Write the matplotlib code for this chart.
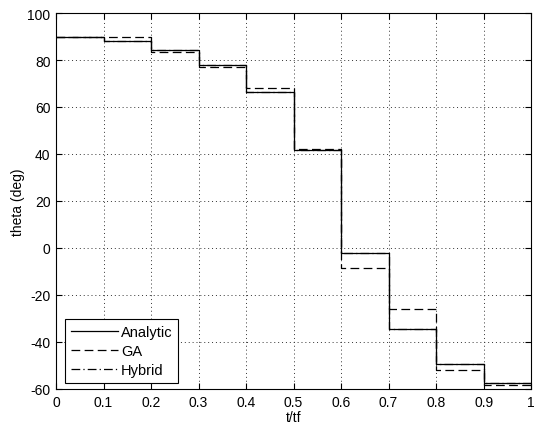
import numpy as np
import matplotlib
matplotlib.use('Agg')
import matplotlib.pyplot as plt

plt.rcParams['font.family'] = ['Liberation Sans', 'DejaVu Sans']
plt.rcParams['axes.unicode_minus'] = False

t_edges = [0, 0.1, 0.2, 0.3, 0.4, 0.5, 0.6, 0.7, 0.8, 0.9, 1.0]
analytic = [90, 88, 84.3, 77.9, 66.3, 41.7, -2.1, -34.5, -49.5, -57.4]
ga = [90, 89.6, 83.3, 77.2, 68.2, 42.0, -8.7, -26.1, -51.8, -58.2]
hybrid = [90, 88, 84.3, 77.9, 66.3, 41.7, -2.1, -34.5, -49.5, -57.4]

fig = plt.figure(figsize=(5.35, 4.27), dpi=100)
ax = fig.add_axes([0.1047, 0.0867, 0.888, 0.8805])

ax.step(t_edges, analytic + [analytic[-1]], where='post', color='black', lw=0.9, label='Analytic')
ax.step(t_edges, ga + [ga[-1]], where='post', color='black', lw=0.9, ls=(0, (7, 3.5)), label='GA')
ax.step(t_edges, hybrid + [hybrid[-1]], where='post', color='black', lw=0.9, ls=(0, (7, 2.5, 1, 2.5)), label='Hybrid')

ax.set_xlim(0, 1)
ax.set_ylim(-60, 100)
ax.set_xticks(np.arange(0, 1.01, 0.1))
ax.set_xticklabels(['0', '0.1', '0.2', '0.3', '0.4', '0.5', '0.6', '0.7', '0.8', '0.9', '1'])
ax.set_yticks(range(-60, 101, 20))
ax.tick_params(direction='in', top=True, right=True, labelsize=10, length=4, width=0.8, pad=4)
ax.grid(True, ls=(0, (1, 3)), color='0.2', lw=0.7)
for s in ax.spines.values():
    s.set_linewidth(0.8)

ax.set_xlabel('t/tf', fontsize=10, labelpad=1)
ax.set_ylabel('theta (deg)', fontsize=10, labelpad=2)

leg = ax.legend(loc='lower left', fontsize=10.5, fancybox=False, framealpha=1,
                edgecolor='black', handlelength=3.2, handletextpad=0.2,
                labelspacing=0.35, borderpad=0.4, bbox_to_anchor=(0.0045, -0.004))
leg.get_frame().set_linewidth(0.8)

fig.savefig('out.png', dpi=100)
